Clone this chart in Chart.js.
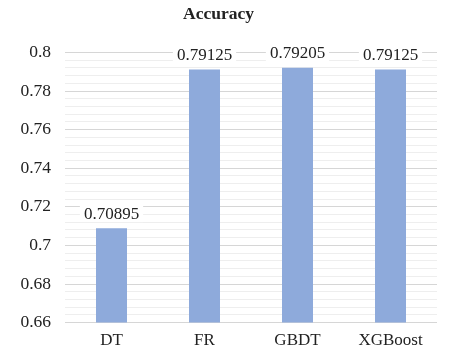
<!DOCTYPE html>
<html>
<head>
<meta charset="utf-8">
<script src="https://cdn.jsdelivr.net/npm/chart.js@4/dist/chart.umd.min.js"></script>
<style>
html,body{margin:0;padding:0;background:#fff;}
#wrap{width:455px;height:359px;}
</style>
</head>
<body>
<div id="wrap"><canvas id="c" width="455" height="359"></canvas></div>
<script>
const categories = ["DT", "FR", "GBDT", "XGBoost"];
const accuracy = [0.70895, 0.79125, 0.79205, 0.79125];
const valueLabels = ["0.70895", "0.79125", "0.79205", "0.79125"];
const yMin = 0.66, yMax = 0.8, majorStep = 0.02, minorStep = 0.004;
const serif = '"Liberation Serif", "Times New Roman", serif';

const labelPlugin = {
  id: 'valueLabels',
  afterDatasetsDraw(chart) {
    const ctx = chart.ctx;
    const meta = chart.getDatasetMeta(0);
    ctx.save();
    ctx.font = '17px ' + serif;
    ctx.textAlign = 'center';
    ctx.textBaseline = 'middle';
    meta.data.forEach((bar, i) => {
      const t = valueLabels[i];
      const w = ctx.measureText(t).width;
      const cy = bar.y - 15;
      ctx.fillStyle = '#ffffff';
      ctx.fillRect(bar.x - w/2 - 4, cy - 9, w + 8, 18);
      ctx.fillStyle = '#222222';
      ctx.fillText(t, bar.x, cy + 1);
    });
    ctx.restore();
  }
};

function isMajor(v) {
  const idx = Math.round((v - yMin) / minorStep);
  return idx % 5 === 0;
}

new Chart(document.getElementById('c'), {
  type: 'bar',
  data: {
    labels: categories,
    datasets: [{
      data: accuracy,
      backgroundColor: '#8eaadb',
      barPercentage: 1/3,
      categoryPercentage: 1
    }]
  },
  plugins: [labelPlugin],
  options: {
    responsive: false,
    animation: false,
    layout: { padding: { left: 0, right: 18, top: 0, bottom: 0 } },
    plugins: {
      legend: { display: false },
      tooltip: { enabled: false },
      title: {
        display: true,
        text: 'Accuracy',
        color: '#222222',
        font: { family: serif, size: 17.5, weight: 'bold' },
        padding: { top: 4, bottom: 27.5 }
      }
    },
    scales: {
      x: {
        grid: { display: false, drawTicks: false },
        border: { display: false },
        ticks: {
          color: '#222222',
          padding: 8,
          font: { family: serif, size: 17 }
        }
      },
      y: {
        min: yMin,
        max: yMax,
        afterFit(scale) { scale.width = 65; },
        afterBuildTicks(scale) {
          const ticks = [];
          for (let i = 0; i <= Math.round((yMax - yMin) / minorStep); i++) {
            ticks.push({ value: +(yMin + i * minorStep).toFixed(4) });
          }
          scale.ticks = ticks;
        },
        border: { display: false },
        grid: {
          drawTicks: false,
          color: (c) => isMajor(c.tick.value) ? '#d6d6d6' : '#eeeeee',
          lineWidth: 1
        },
        ticks: {
          autoSkip: false,
          color: '#222222',
          padding: 14,
          font: { family: serif, size: 17.5 },
          callback: (v) => isMajor(v) ? String(Number((+v).toFixed(2))) : ''
        }
      }
    }
  }
});
</script>
</body>
</html>
